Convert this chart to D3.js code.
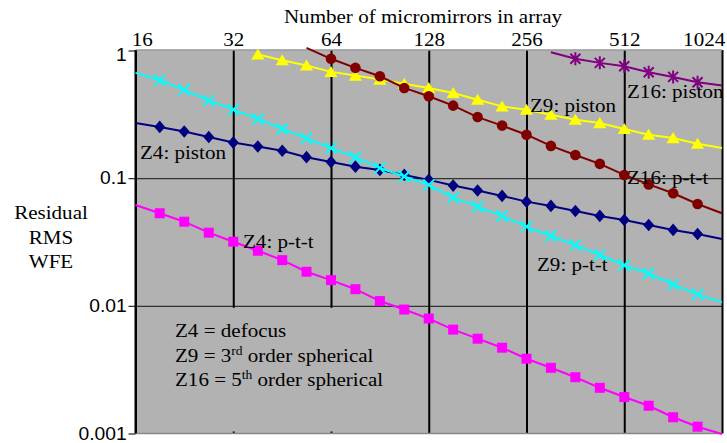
<!DOCTYPE html>
<html>
<head>
<meta charset="utf-8">
<script src="https://cdn.jsdelivr.net/npm/d3@7"></script>
<style>
  body { margin: 0; background: #fff; }
</style>
</head>
<body>
<svg width="727" height="443"></svg>
<script>
// number of micromirrors (quarter-octave steps, 16 .. 1024)
var mirrors = [16, 19.0, 22.6, 26.9, 32, 38.1, 45.3, 53.8, 64, 76.1, 90.5, 107.6, 128,
               152.2, 181.0, 215.3, 256, 304.4, 362.0, 430.5, 512, 608.9, 724.1, 861.1, 1024];

// residual RMS wavefront error, one value per mirrors entry (null = not plotted)
var z4Piston = [0.270, 0.252, 0.232, 0.210, 0.190, 0.177, 0.164, 0.146, 0.134, 0.123, 0.116, 0.106, 0.097,
                0.0875, 0.080, 0.0726, 0.0655, 0.0606, 0.0553, 0.0506, 0.047, 0.043, 0.0393, 0.0365, 0.0334];
var z4Ptt = [0.0617, 0.0531, 0.0456, 0.0374, 0.0318, 0.0270, 0.0228, 0.0185, 0.0159, 0.0135, 0.0109, 0.00935, 0.00795,
             0.00651, 0.00553, 0.00470, 0.00385, 0.00327, 0.00276, 0.00228, 0.00193, 0.00165, 0.00134, 0.00113, 0.00099];
var z9Ptt = [0.668, 0.584, 0.494, 0.405, 0.344, 0.291, 0.243, 0.205, 0.172, 0.146, 0.120, 0.103, 0.0886,
             0.0704, 0.0598, 0.0506, 0.0417, 0.0352, 0.0299, 0.0250, 0.0208, 0.0179, 0.0147, 0.0123, 0.0107];
var z9Piston = [null, null, null, null, null, 0.930, 0.839, 0.763, 0.680, 0.636, 0.592, 0.548, 0.509,
                0.465, 0.412, 0.365, 0.344, 0.314, 0.287, 0.270, 0.243, 0.219, 0.206, 0.186, 0.172];
var z16Ptt = [null, null, null, null, null, null, null, 1.05, 0.861, 0.731, 0.628, 0.509, 0.438,
              0.370, 0.301, 0.258, 0.219, 0.179, 0.152, 0.1295, 0.106, 0.0894, 0.0762, 0.0628, 0.0531];
var z16Piston = [null, null, null, null, null, null, null, null, null, null, null, null, null,
                 null, null, null, null, 0.970, 0.861, 0.800, 0.753, 0.675, 0.621, 0.564, 0.531];

var xTicks = [16, 32, 64, 128, 256, 512, 1024];
var yTicks = [1, 0.1, 0.01, 0.001];
var yGrid = [0.1, 0.01];

var serif = "'Liberation Serif', 'Times New Roman', Times, 'DejaVu Serif', serif";
var sans = "'Liberation Sans', Arial, Helvetica, sans-serif";

var svg = d3.select("svg");
var pLeft = 135.5, pRight = 722, pTop = 50, pBottom = 433.5;
var plotGray = "#b2b2b2";

var x = d3.scaleLog().base(2).domain([16, 1024]).range([pLeft, pRight]);
var y = d3.scaleLog().domain([0.001, 1]).range([pBottom, 50.5]);

// marker shapes, size = half extent in px
var markSquare = { draw: function(c, r) { c.rect(-r, -r, 2 * r, 2 * r); } };
var markDiamond = { draw: function(c, r) {
  c.moveTo(0, -r * 1.15); c.lineTo(r, 0); c.lineTo(0, r * 1.15); c.lineTo(-r, 0); c.closePath(); } };
var markTriangle = { draw: function(c, r) {
  c.moveTo(0, -r); c.lineTo(r * 1.1, r * 0.85); c.lineTo(-r * 1.1, r * 0.85); c.closePath(); } };
var markCircle = { draw: function(c, r) { c.moveTo(r, 0); c.arc(0, 0, r, 0, 2 * Math.PI); } };
var markX = { draw: function(c, r) {
  c.moveTo(-r, -r); c.lineTo(r, r); c.moveTo(-r, r); c.lineTo(r, -r); } };
var markStar = { draw: function(c, r) {
  c.moveTo(-r, -r); c.lineTo(r, r); c.moveTo(-r, r); c.lineTo(r, -r);
  c.moveTo(0, -r * 1.3); c.lineTo(0, r * 1.3); } };

var series = [
  { values: z9Piston, color: "#ffff00", shape: markTriangle, size: 6, filled: true, markFrom: 5 },
  { values: z4Piston, color: "#000080", shape: markDiamond, size: 5.5, filled: true, markFrom: 1 },
  { values: z4Ptt, color: "#ff00ff", shape: markSquare, size: 5, filled: true, markFrom: 1 },
  { values: z9Ptt, color: "#00ffff", shape: markX, size: 5.5, filled: false, markFrom: 1 },
  { values: z16Ptt, color: "#800000", shape: markCircle, size: 5.3, filled: true, markFrom: 8 },
  { values: z16Piston, color: "#800080", shape: markStar, size: 5, filled: false, markFrom: 18 }
];

// plot area
svg.append("rect")
    .attr("x", pLeft).attr("y", pTop)
    .attr("width", pRight - pLeft).attr("height", pBottom - pTop)
    .attr("fill", plotGray);

// horizontal grid
var hGrid = svg.append("g")
    .attr("transform", "translate(" + pLeft + ",0)")
    .call(d3.axisLeft(y).tickValues(yGrid).tickSize(-(pRight - pLeft)).tickFormat(""));
hGrid.select(".domain").remove();
hGrid.selectAll("line").attr("stroke", "#333").attr("stroke-width", 1.2);

// top axis with vertical grid
var xAxis = svg.append("g")
    .attr("transform", "translate(0," + pTop + ")")
    .call(d3.axisTop(x).tickValues(xTicks).tickSize(-(pBottom - pTop)).tickPadding(4).tickFormat(d3.format("d")));
xAxis.select(".domain").remove();
xAxis.attr("font-family", serif).attr("font-size", 19.5);
xAxis.selectAll("line").attr("stroke", "#000").attr("stroke-width", 2);
xAxis.selectAll("text")
    .attr("fill", "#000")
    .attr("transform", "scale(1.08,1)")
    .attr("text-anchor", function(d) { return d === 16 ? "start" : d === 1024 ? "end" : "middle"; })
    .attr("x", function(d) { return d === 16 ? -4 : d === 1024 ? 2.5 : 0; });

// text box of the Zernike legend sits on the grid
svg.append("rect")
    .attr("x", pLeft + 2).attr("y", y(0.01) + 2)
    .attr("width", 252).attr("height", pBottom - y(0.01) - 4)
    .attr("fill", plotGray);

// borders
svg.append("line").attr("x1", pLeft).attr("x2", pRight).attr("y1", pTop).attr("y2", pTop)
    .attr("stroke", "#9a9a9a").attr("stroke-width", 1.5);
svg.append("line").attr("x1", pLeft).attr("x2", pRight).attr("y1", pBottom).attr("y2", pBottom)
    .attr("stroke", "#888").attr("stroke-width", 1.5);

// left axis
var yAxis = svg.append("g")
    .attr("transform", "translate(" + pLeft + ",0)")
    .call(d3.axisLeft(y).tickValues(yTicks).tickSize(7).tickSizeOuter(0).tickPadding(1).tickFormat(d3.format("~g")));
yAxis.attr("font-family", sans).attr("font-size", 17.5);
yAxis.select(".domain").attr("stroke", "#000").attr("stroke-width", 2).attr("d", "M0," + pBottom + "V" + pTop);
yAxis.selectAll("line").attr("stroke", "#222").attr("stroke-width", 1.2);
yAxis.selectAll("text")
    .attr("fill", "#000")
    .attr("transform", function(d) { return d === 1 ? "translate(0,4) scale(1.1,1)" : "scale(1.1,1)"; });

// series
var line = d3.line()
    .x(function(d) { return x(d.m); })
    .y(function(d) { return y(d.v); });

series.forEach(function(s) {
  var pts = mirrors.map(function(m, i) { return { m: m, v: s.values[i], i: i }; })
      .filter(function(p) { return p.v != null; });

  svg.append("path")
      .datum(pts)
      .attr("fill", "none")
      .attr("stroke", s.color)
      .attr("stroke-width", 2)
      .attr("d", line);

  svg.append("g").selectAll("path")
      .data(pts.filter(function(p) { return p.i >= s.markFrom && p.i < mirrors.length - 1; }))
      .enter().append("path")
      .attr("transform", function(d) { return "translate(" + x(d.m) + "," + y(d.v) + ")"; })
      .attr("d", d3.symbol().type(s.shape).size(s.size))
      .attr("fill", s.filled ? s.color : "none")
      .attr("stroke", s.color)
      .attr("stroke-width", s.filled ? 0 : 2);
});

// text
function label(txt, x0, y0, size, anchor) {
  return svg.append("text")
      .attr("transform", "translate(" + x0 + "," + y0 + ") scale(1.08,1)")
      .attr("font-family", serif)
      .attr("font-size", size)
      .attr("text-anchor", anchor || "start")
      .attr("fill", "#000")
      .text(txt);
}

label("Number of micromirrors in array", 423, 23, 19.5, "middle");
label("Residual", 51, 219, 19.5, "middle");
label("RMS", 51, 243.5, 19.5, "middle");
label("WFE", 51, 268, 19.5, "middle");

label("Z4: piston", 140, 158.5, 19.5);
label("Z4: p-t-t", 243, 247.5, 19.5);
label("Z9: piston", 530, 112, 19.5);
label("Z9: p-t-t", 537, 270.5, 19.5);
label("Z16: piston", 627, 97.5, 19.5);
label("Z16: p-t-t", 627, 184, 19.5);

label("Z4 = defocus", 175, 337, 19.5);
var z9Note = label("Z9 = 3", 175, 361.5, 19.5);
z9Note.append("tspan").attr("dy", -7).attr("font-size", 12.5).text("rd");
z9Note.append("tspan").attr("dy", 7).text(" order spherical");
var z16Note = label("Z16 = 5", 175, 386, 19.5);
z16Note.append("tspan").attr("dy", -7).attr("font-size", 12.5).text("th");
z16Note.append("tspan").attr("dy", 7).text(" order spherical");
</script>
</body>
</html>
